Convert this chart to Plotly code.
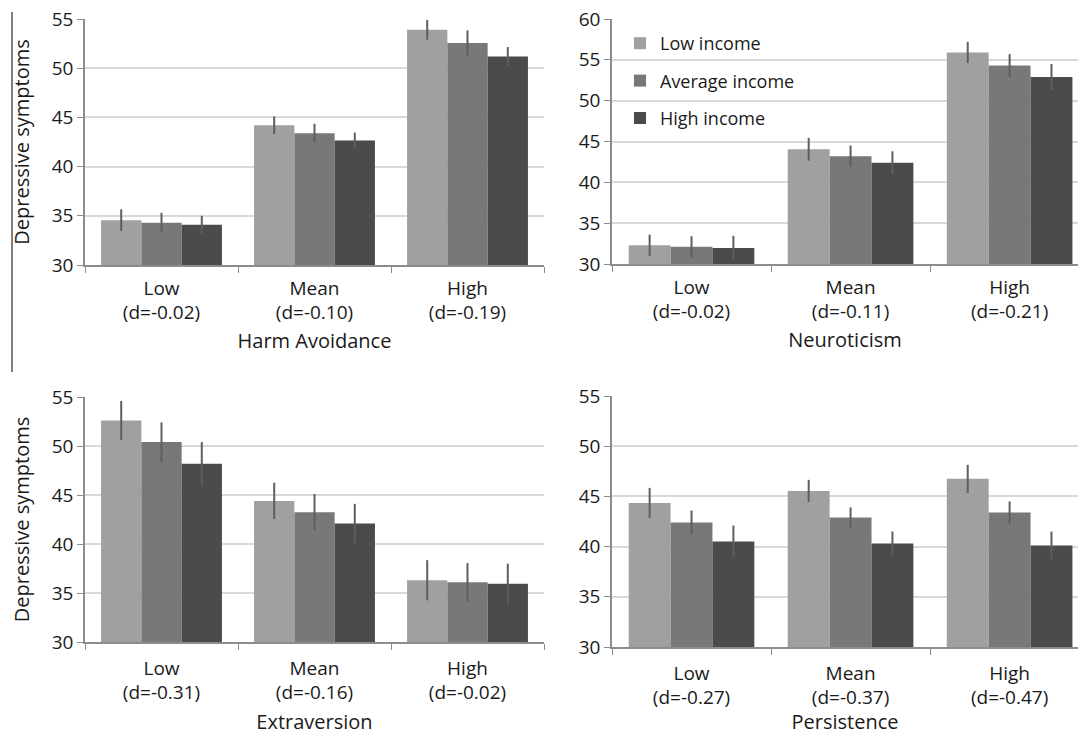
import plotly.graph_objects as go

W, H = 1078, 735

income_groups = ["Low income", "Average income", "High income"]
colors = ["#a0a0a0", "#787878", "#4b4b4b"]
levels = ["Low", "Mean", "High"]

# Harm Avoidance
ha_d = ["-0.02", "-0.10", "-0.19"]
ha_low = [34.55, 44.2, 53.9]
ha_avg = [34.3, 43.4, 52.55]
ha_high = [34.1, 42.65, 51.2]
ha_low_err = [1.1, 0.9, 1.0]
ha_avg_err = [1.0, 0.95, 1.3]
ha_high_err = [0.9, 0.8, 0.95]

# Neuroticism
ne_d = ["-0.02", "-0.11", "-0.21"]
ne_low = [32.3, 44.05, 55.9]
ne_avg = [32.1, 43.2, 54.3]
ne_high = [31.95, 42.4, 52.9]
ne_low_err = [1.3, 1.4, 1.3]
ne_avg_err = [1.3, 1.3, 1.4]
ne_high_err = [1.5, 1.4, 1.6]

# Extraversion
ex_d = ["-0.31", "-0.16", "-0.02"]
ex_low = [52.6, 44.4, 36.3]
ex_avg = [50.4, 43.25, 36.1]
ex_high = [48.2, 42.1, 35.95]
ex_low_err = [2.0, 1.85, 2.05]
ex_avg_err = [2.0, 1.85, 1.95]
ex_high_err = [2.2, 2.0, 2.05]

# Persistence
pe_d = ["-0.27", "-0.37", "-0.47"]
pe_low = [44.35, 45.55, 46.75]
pe_avg = [42.4, 42.9, 43.4]
pe_high = [40.5, 40.3, 40.1]
pe_low_err = [1.5, 1.1, 1.4]
pe_avg_err = [1.2, 1.0, 1.1]
pe_high_err = [1.6, 1.2, 1.4]

panels = [
    dict(name="Harm Avoidance", d=ha_d, vals=[ha_low, ha_avg, ha_high],
         errs=[ha_low_err, ha_avg_err, ha_high_err], ymax=55,
         px=(85, 544), py=(19, 265), ytitle=True, xr=2.5, tso=5, xts=10),
    dict(name="Neuroticism", d=ne_d, vals=[ne_low, ne_avg, ne_high],
         errs=[ne_low_err, ne_avg_err, ne_high_err], ymax=60,
         px=(612, 1078), py=(19, 264), ytitle=False, xr=2.43, tso=5, xts=10),
    dict(name="Extraversion", d=ex_d, vals=[ex_low, ex_avg, ex_high],
         errs=[ex_low_err, ex_avg_err, ex_high_err], ymax=55,
         px=(85, 544), py=(397, 642), ytitle=True, xr=2.5, tso=8, xts=16),
    dict(name="Persistence", d=pe_d, vals=[pe_low, pe_avg, pe_high],
         errs=[pe_low_err, pe_avg_err, pe_high_err], ymax=55,
         px=(612, 1078), py=(396, 647), ytitle=False, xr=2.43, tso=8, xts=16),
]


def fx(px):
    return px / W


def fy(py):
    return 1 - py / H


FONT = "Open Sans"
TXT = "#1a1a1a"
fig = go.Figure()
layout = {}
for i, p in enumerate(panels):
    n = "" if i == 0 else str(i + 1)
    xa, ya = "x" + n, "y" + n
    for j in range(3):
        fig.add_trace(go.Bar(
            x=levels, y=p["vals"][j], name=income_groups[j],
            marker=dict(color=colors[j], line=dict(width=0)),
            error_y=dict(type="data", array=p["errs"][j], visible=True,
                         color="#5e5e5e", thickness=2, width=0),
            xaxis=xa, yaxis=ya,
            showlegend=(i == 1), legendgroup=income_groups[j],
        ))
    ticktext = [f"{lv}<br>(d={dv})" for lv, dv in zip(levels, p["d"])]
    layout["xaxis" + n] = dict(
        domain=[fx(p["px"][0]), min(1.0, fx(p["px"][1]))],
        anchor=ya, range=[-0.5, p["xr"]], automargin=False,
        tickmode="array", tickvals=levels, ticktext=ticktext,
        tickson="boundaries", ticks="outside", ticklen=6, tickcolor="#8c8c8c",
        ticklabelstandoff=p["tso"], ticklabeloverflow="allow",
        showline=True, linecolor="#8c8c8c", linewidth=1.5, showgrid=False,
        tickfont=dict(family=FONT, size=19, color=TXT),
        title=dict(text=p["name"], font=dict(family=FONT, size=20, color=TXT),
                   standoff=p["xts"]),
    )
    layout["yaxis" + n] = dict(
        domain=[fy(p["py"][1]), fy(p["py"][0])],
        anchor=xa, range=[30, p["ymax"]], dtick=5, automargin=False,
        ticks="outside", ticklen=6, tickcolor="#8c8c8c",
        ticklabeloverflow="allow",
        showline=True, linecolor="#8c8c8c", linewidth=1.5,
        showgrid=True, gridcolor="#d9d9d9", gridwidth=1.5, zeroline=False,
        tickfont=dict(family=FONT, size=19, color=TXT),
        title=dict(text="Depressive symptoms" if p["ytitle"] else "",
                   font=dict(family=FONT, size=20, color=TXT), standoff=17),
    )

fig.update_layout(
    width=W, height=H, autosize=False,
    margin=dict(l=0, r=0, t=0, b=0, autoexpand=False),
    paper_bgcolor="white", plot_bgcolor="white",
    barmode="group", bargap=0.21, bargroupgap=0,
    font=dict(family=FONT, size=18, color=TXT),
    legend=dict(x=fx(620), y=fy(25), xanchor="left", yanchor="top",
                bgcolor="rgba(0,0,0,0)", tracegroupgap=11, itemwidth=30,
                font=dict(family=FONT, size=18, color=TXT)),
    shapes=[dict(type="line", xref="paper", yref="paper",
                 x0=fx(12), x1=fx(12), y0=fy(12), y1=fy(372),
                 line=dict(color="#7f7f7f", width=2))],
    **layout,
)

fig.write_html(
    "out.html",
    config={"displayModeBar": False},
    post_script="document.body.style.margin='0';document.body.style.overflow='hidden';",
)
